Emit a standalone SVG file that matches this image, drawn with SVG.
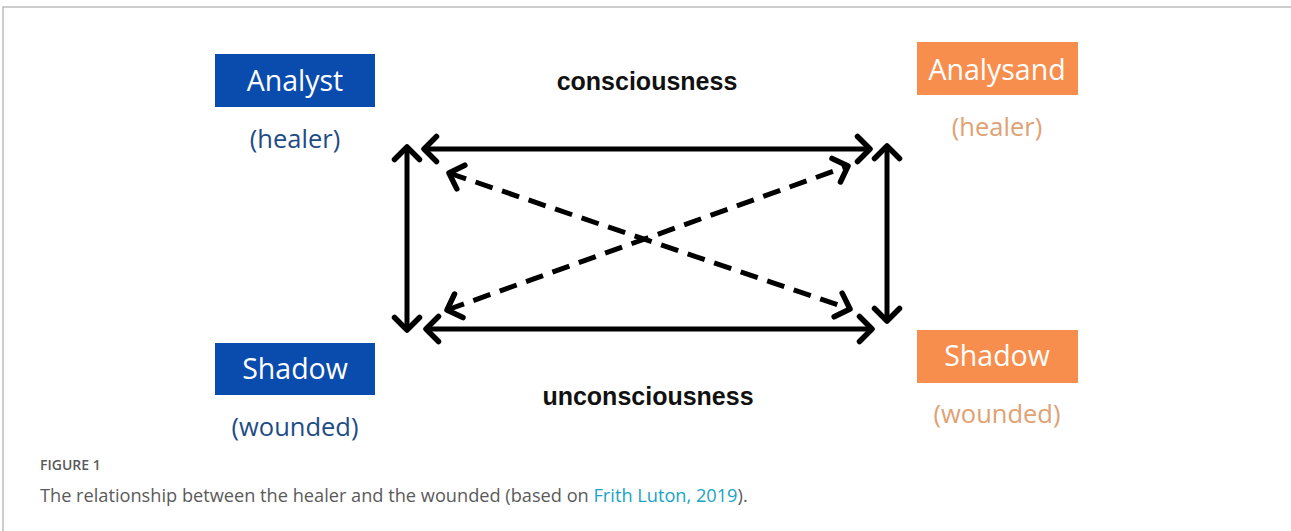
<svg xmlns="http://www.w3.org/2000/svg" width="1291" height="531" viewBox="0 0 1291 531">
<style>
.box-blue{fill:#0a4bae}
.box-orange{fill:#f88e4d}
.lbl{font-family:"Open Sans","Noto Sans",sans-serif;font-size:28.5px;text-anchor:middle;fill:#ffffff}
.sub-blue{font-family:"Open Sans","Noto Sans",sans-serif;font-size:25.5px;text-anchor:middle;fill:#1e4c86}
.sub-orange{font-family:"Open Sans","Noto Sans",sans-serif;font-size:25.5px;text-anchor:middle;fill:#e0a173}
.lvl{font-family:"Liberation Sans","Arial",sans-serif;font-size:25px;font-weight:bold;text-anchor:middle;fill:#111}
.solid{stroke:#000;stroke-width:5;fill:none}
.dash{stroke:#000;stroke-width:5;fill:none;stroke-dasharray:18 10}
.cap{font-family:"Open Sans","Noto Sans",sans-serif;fill:#5a5a5a}
</style>
<defs>
<marker id="chev" viewBox="-16 -16 20 32" markerWidth="20" markerHeight="32" refX="0" refY="0" orient="auto-start-reverse" markerUnits="userSpaceOnUse">
<path d="M -12.5 -12.5 L 0 0 L -12.5 12.5" fill="none" stroke="#000" stroke-width="5.5" stroke-linecap="round" stroke-linejoin="round"/>
</marker>
</defs>
<rect x="0" y="0" width="1291" height="531" fill="#fff"/>
<path d="M3 531 V7 H1291" fill="none" stroke="#bdbdbd" stroke-width="1.5"/>
<g id="connectors">
<line class="solid" x1="424" y1="149" x2="870" y2="149" marker-start="url(#chev)" marker-end="url(#chev)"/>
<line class="solid" x1="426" y1="329" x2="872" y2="329" marker-start="url(#chev)" marker-end="url(#chev)"/>
<line class="solid" x1="407" y1="147" x2="407" y2="330" marker-start="url(#chev)" marker-end="url(#chev)"/>
<line class="solid" x1="887" y1="146" x2="887" y2="321" marker-start="url(#chev)" marker-end="url(#chev)"/>
<line class="dash" x1="449" y1="173" x2="850" y2="309" marker-start="url(#chev)" marker-end="url(#chev)"/>
<line class="dash" x1="447" y1="310" x2="848" y2="166" marker-start="url(#chev)" marker-end="url(#chev)"/>
</g>
<g id="analyst">
<rect class="box-blue" x="215" y="54" width="160" height="53"/>
<text class="lbl" x="295" y="91">Analyst</text>
<text class="sub-blue" x="295" y="148">(healer)</text>
</g>
<g id="analysand">
<rect class="box-orange" x="917" y="42" width="161" height="53"/>
<text class="lbl" x="997" y="80">Analysand</text>
<text class="sub-orange" x="997" y="136">(healer)</text>
</g>
<g id="shadow-left">
<rect class="box-blue" x="215" y="343" width="160" height="52"/>
<text class="lbl" x="295" y="379">Shadow</text>
<text class="sub-blue" x="295" y="436">(wounded)</text>
</g>
<g id="shadow-right">
<rect class="box-orange" x="917" y="330" width="161" height="53"/>
<text class="lbl" x="997" y="366">Shadow</text>
<text class="sub-orange" x="997" y="423">(wounded)</text>
</g>
<g id="consciousness"><text class="lvl" x="647" y="90">consciousness</text></g>
<g id="unconsciousness"><text class="lvl" x="648" y="405">unconsciousness</text></g>
<g id="caption">
<text class="cap" x="40" y="470" font-size="14" font-weight="600">FIGURE 1</text>
<text class="cap" x="40" y="502" font-size="18.2">The relationship between the healer and the wounded (based on <tspan fill="#1aa3c5">Frith Luton, 2019</tspan>).</text>
</g>
</svg>
